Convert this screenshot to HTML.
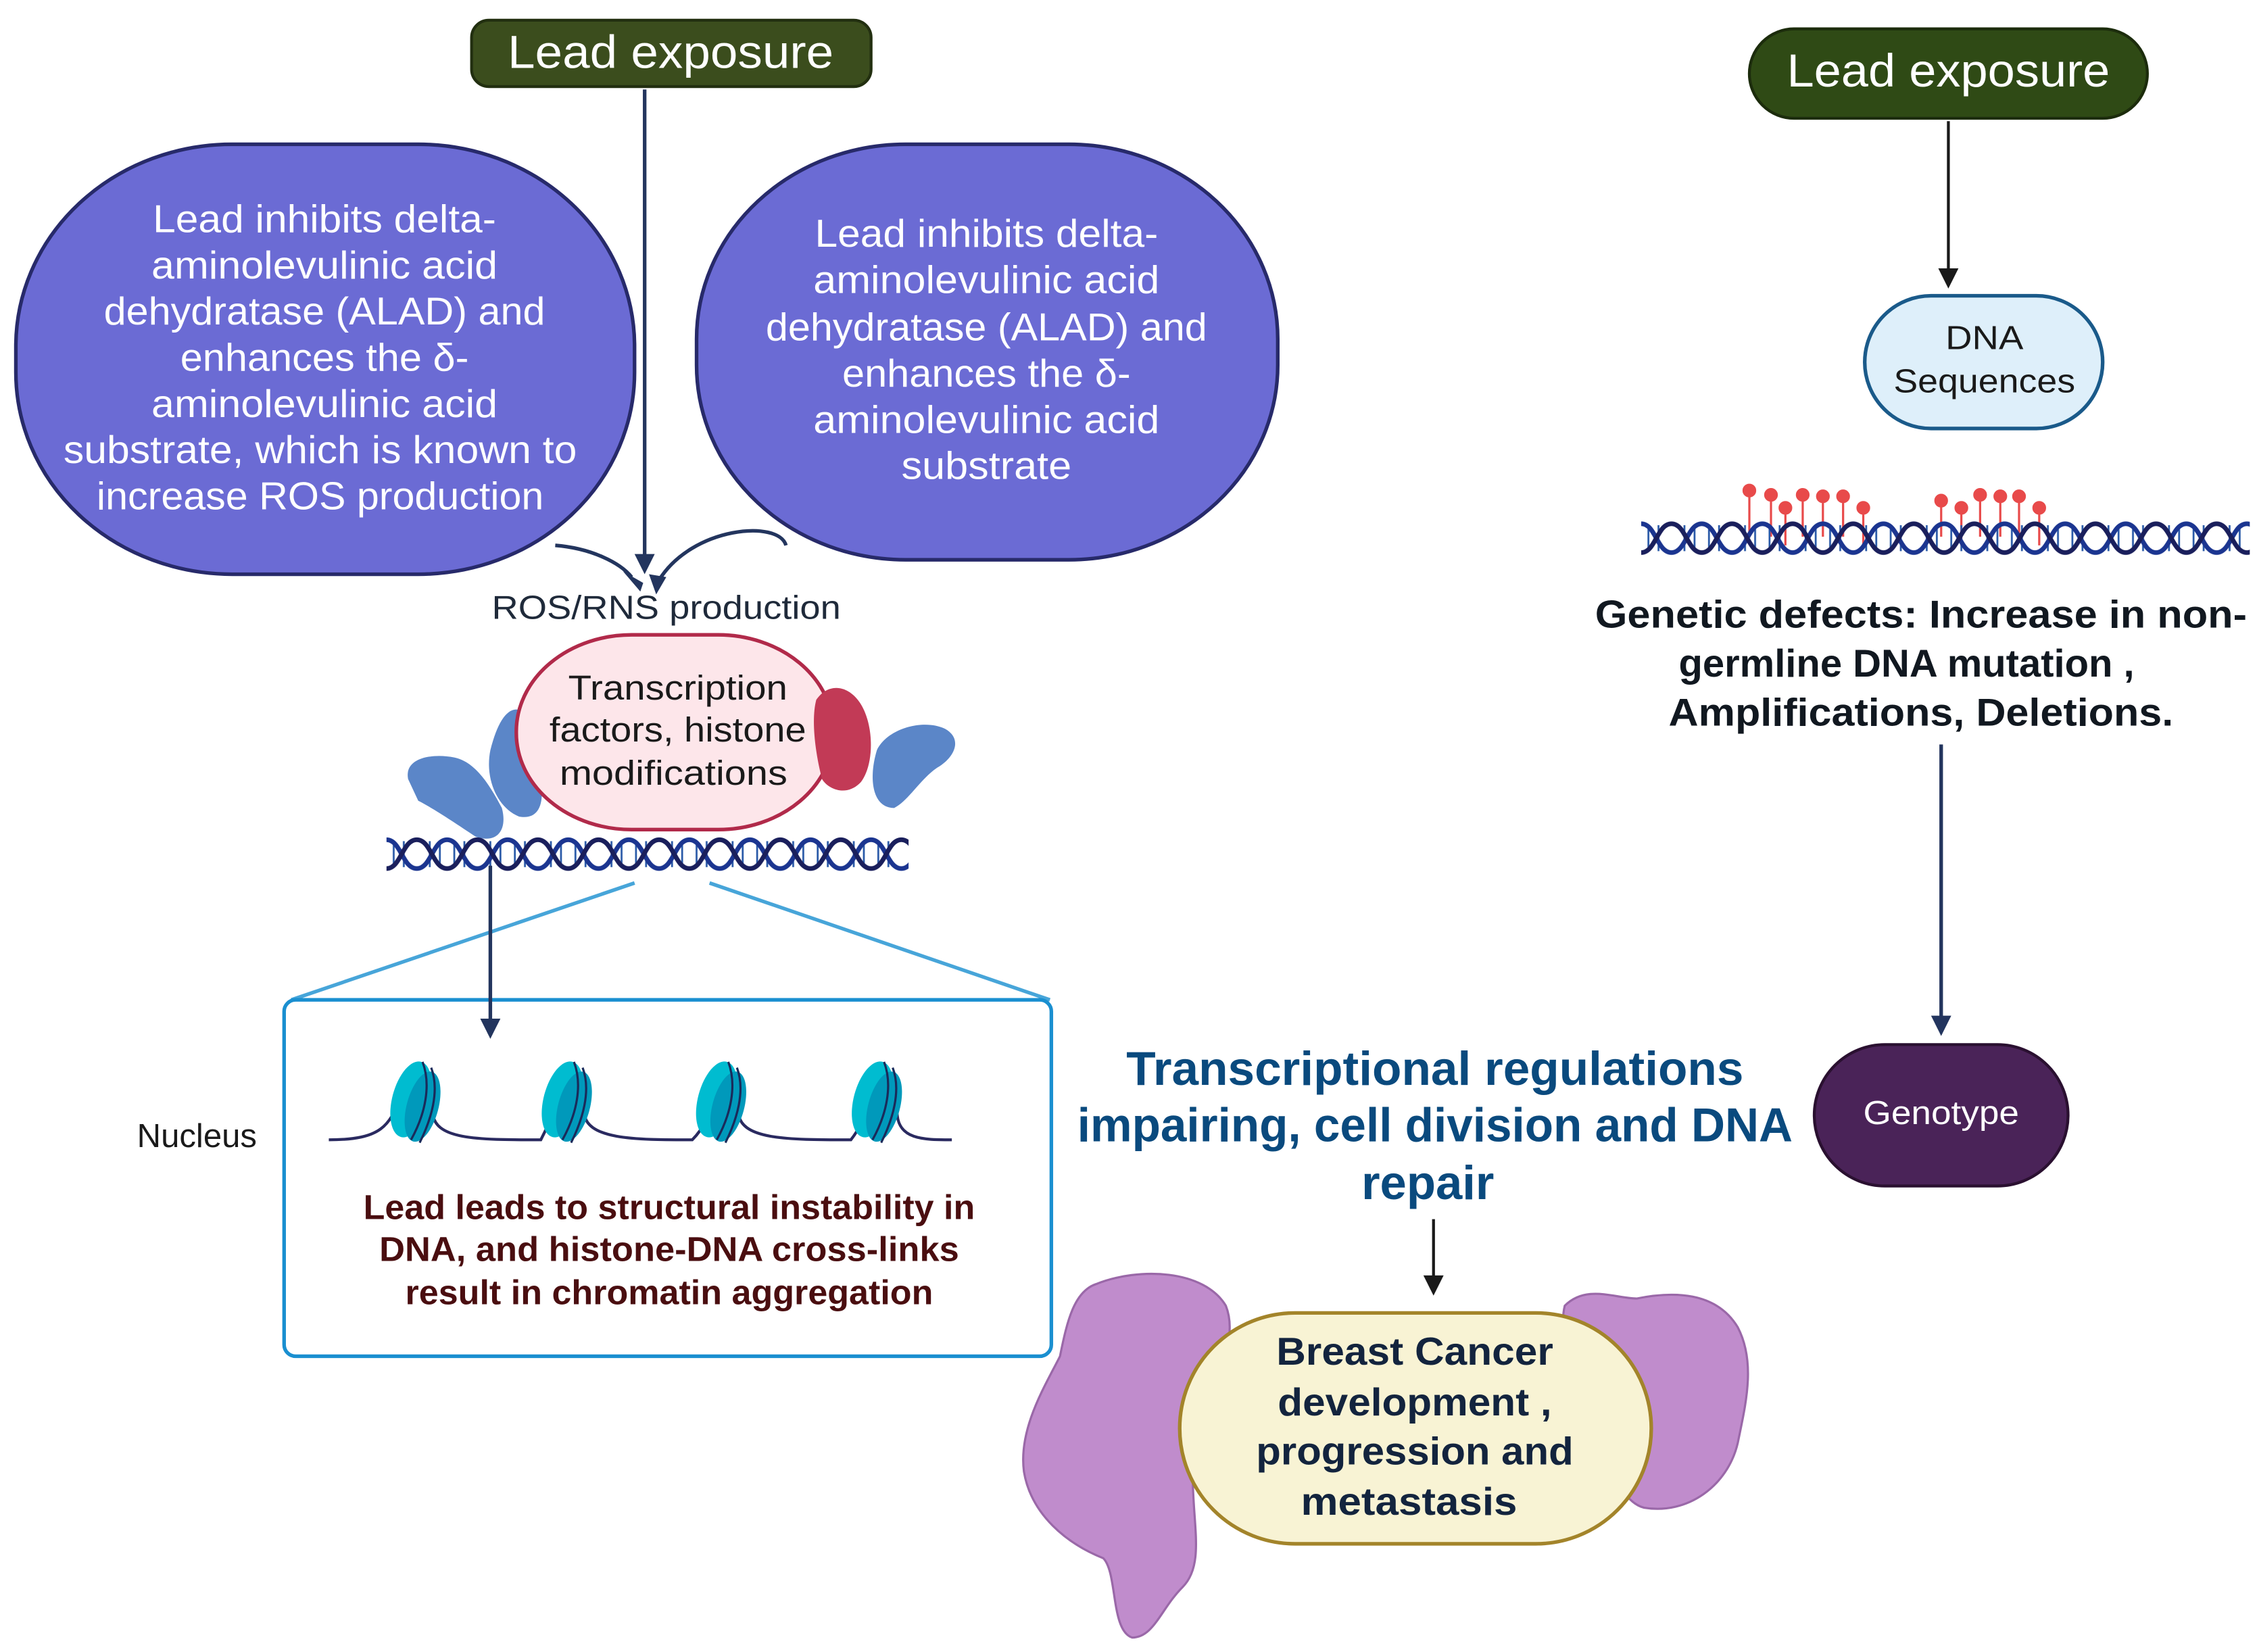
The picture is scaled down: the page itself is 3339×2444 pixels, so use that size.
<!DOCTYPE html>
<html><head><meta charset="utf-8"><style>html,body{margin:0;padding:0;background:#fff}svg{display:block}text{font-family:"Liberation Sans",sans-serif}</style></head>
<body>
<svg width="3339" height="2444" viewBox="0 0 1565 1145" preserveAspectRatio="none" xmlns="http://www.w3.org/2000/svg">
<defs>
<g id="helixTile">
<g stroke="#2a5aa8" stroke-width="1.3"><line x1="5" y1="5" x2="5" y2="19"/><line x1="12" y1="3" x2="12" y2="21"/><line x1="30" y1="3" x2="30" y2="21"/><line x1="37" y1="5" x2="37" y2="19"/></g>
<path d="M0,2 C10,2 11,22 21,22 C31,22 32,2 42,2" fill="none" stroke="#1b3590" stroke-width="3.2"/>
<path d="M0,22 C10,22 11,2 21,2 C31,2 32,22 42,22" fill="none" stroke="#1a1f5c" stroke-width="3.2"/>
</g>
<pattern id="dnaL" x="268" y="580" width="42" height="24" patternUnits="userSpaceOnUse"><use href="#helixTile"/></pattern>
<pattern id="dnaR" x="1138" y="361" width="42" height="24" patternUnits="userSpaceOnUse"><use href="#helixTile"/></pattern>
</defs>

<!-- Left lead exposure -->
<rect x="327" y="14" width="277" height="46" rx="12" fill="#3b4d1d" stroke="#222f10" stroke-width="2"/>
<text x="465" y="47" font-size="32" fill="#fff" text-anchor="middle" textLength="226" lengthAdjust="spacingAndGlyphs">Lead exposure</text>
<line x1="447" y1="62" x2="447" y2="386" stroke="#23355e" stroke-width="2.5"/>
<path d="M440,384 L454,384 L447,398 Z" fill="#23355e"/>

<!-- Left blob -->
<rect x="11" y="100" width="429" height="298" rx="150" ry="140" fill="#6b6bd4" stroke="#272a6a" stroke-width="2.5"/>
<g font-size="27" fill="#fff" text-anchor="middle">
<text x="225" y="161" textLength="238" lengthAdjust="spacingAndGlyphs">Lead inhibits delta-</text>
<text x="225" y="193" textLength="240" lengthAdjust="spacingAndGlyphs">aminolevulinic acid</text>
<text x="225" y="225" textLength="306" lengthAdjust="spacingAndGlyphs">dehydratase (ALAD) and</text>
<text x="225" y="257" textLength="200" lengthAdjust="spacingAndGlyphs">enhances the δ-</text>
<text x="225" y="289" textLength="240" lengthAdjust="spacingAndGlyphs">aminolevulinic acid</text>
<text x="222" y="321" textLength="356" lengthAdjust="spacingAndGlyphs">substrate, which is known to</text>
<text x="222" y="353" textLength="310" lengthAdjust="spacingAndGlyphs">increase ROS production</text>
</g>
<!-- Right blob -->
<rect x="483" y="100" width="403" height="288" rx="145" ry="135" fill="#6b6bd4" stroke="#272a6a" stroke-width="2.5"/>
<g font-size="27" fill="#fff" text-anchor="middle">
<text x="684" y="171" textLength="238" lengthAdjust="spacingAndGlyphs">Lead inhibits delta-</text>
<text x="684" y="203" textLength="240" lengthAdjust="spacingAndGlyphs">aminolevulinic acid</text>
<text x="684" y="236" textLength="306" lengthAdjust="spacingAndGlyphs">dehydratase (ALAD) and</text>
<text x="684" y="268" textLength="200" lengthAdjust="spacingAndGlyphs">enhances the δ-</text>
<text x="684" y="300" textLength="240" lengthAdjust="spacingAndGlyphs">aminolevulinic acid</text>
<text x="684" y="332" textLength="118" lengthAdjust="spacingAndGlyphs">substrate</text>
</g>
<!-- curved arrows -->
<path d="M385,378 C410,380 430,390 438,400" fill="none" stroke="#23355e" stroke-width="2.5"/>
<path d="M432,396 L446,404 L444,410 Z" fill="#23355e"/>
<path d="M545,378 C540,360 480,365 457,402" fill="none" stroke="#23355e" stroke-width="2.5"/>
<path d="M450,398 L462,400 L455,412 Z" fill="#23355e"/>
<text x="462" y="429" font-size="23" fill="#1f2a3a" text-anchor="middle" textLength="242" lengthAdjust="spacingAndGlyphs">ROS/RNS production</text>

<!-- proteins -->
<path d="M283,540 C280,525 300,522 315,525 C330,528 340,545 348,560 C352,575 345,585 330,580 C315,570 300,560 290,555 Z" fill="#5b86c8"/>
<path d="M340,520 C345,500 352,490 360,492 L375,540 C378,560 372,568 360,566 C345,560 336,540 340,520 Z" fill="#5b86c8"/>
<path d="M608,520 C615,505 640,498 655,505 C668,512 662,525 650,532 C638,540 630,555 620,560 C605,560 602,540 608,520 Z" fill="#5b86c8"/>
<rect x="358" y="440" width="220" height="135" rx="80" ry="67" fill="#fde6ea" stroke="#b12a4a" stroke-width="2.5"/>
<path d="M566,485 C575,472 590,475 598,490 C606,505 606,530 597,542 C588,552 575,548 570,540 C566,525 562,500 566,485 Z" fill="#c23a56"/>
<g font-size="24" fill="#1a1a1a" text-anchor="middle">
<text x="470" y="485" textLength="152" lengthAdjust="spacingAndGlyphs">Transcription</text>
<text x="470" y="514" textLength="178" lengthAdjust="spacingAndGlyphs">factors, histone</text>
<text x="467" y="544" textLength="158" lengthAdjust="spacingAndGlyphs">modifications</text>
</g>
<rect x="268" y="580" width="362" height="24" fill="url(#dnaL)"/>

<!-- zoom lines -->
<line x1="440" y1="612" x2="202" y2="693" stroke="#1a8fd0" stroke-width="2.5" opacity="0.8"/>
<line x1="492" y1="612" x2="728" y2="693" stroke="#1a8fd0" stroke-width="2.5" opacity="0.8"/>
<rect x="197" y="693" width="532" height="247" rx="8" fill="none" stroke="#1a8fd0" stroke-width="2.5"/>
<line x1="340" y1="600" x2="340" y2="708" stroke="#23355e" stroke-width="2.5"/>
<path d="M333,706 L347,706 L340,720 Z" fill="#23355e"/>
<text x="95" y="795" font-size="23" fill="#1a1a1a">Nucleus</text>

<!-- nucleosomes -->
<path d="M228,790 C265,790 270,780 278,760 M300,770 C300,790 330,790 375,790 C380,780 385,770 388,760 M405,770 C405,790 440,790 480,790 C490,780 492,770 495,760 M512,770 C512,790 545,790 590,790 C598,780 600,770 605,760 M622,770 C622,790 640,790 660,790" fill="none" stroke="#2a2a60" stroke-width="2"/>
<g>
<g transform="translate(285,762)"><ellipse cx="0" cy="0" rx="13" ry="27" transform="rotate(15)" fill="#00bcd0"/><ellipse cx="8" cy="5" rx="11" ry="25" transform="rotate(15 8 5)" fill="#0099bb"/><path d="M8,-26 C14,-10 10,10 0,28 M14,-22 C20,-6 14,14 6,30" fill="none" stroke="#1a2a5a" stroke-width="1.5"/></g>
<g transform="translate(390,762)"><ellipse cx="0" cy="0" rx="13" ry="27" transform="rotate(15)" fill="#00bcd0"/><ellipse cx="8" cy="5" rx="11" ry="25" transform="rotate(15 8 5)" fill="#0099bb"/><path d="M8,-26 C14,-10 10,10 0,28 M14,-22 C20,-6 14,14 6,30" fill="none" stroke="#1a2a5a" stroke-width="1.5"/></g>
<g transform="translate(497,762)"><ellipse cx="0" cy="0" rx="13" ry="27" transform="rotate(15)" fill="#00bcd0"/><ellipse cx="8" cy="5" rx="11" ry="25" transform="rotate(15 8 5)" fill="#0099bb"/><path d="M8,-26 C14,-10 10,10 0,28 M14,-22 C20,-6 14,14 6,30" fill="none" stroke="#1a2a5a" stroke-width="1.5"/></g>
<g transform="translate(605,762)"><ellipse cx="0" cy="0" rx="13" ry="27" transform="rotate(15)" fill="#00bcd0"/><ellipse cx="8" cy="5" rx="11" ry="25" transform="rotate(15 8 5)" fill="#0099bb"/><path d="M8,-26 C14,-10 10,10 0,28 M14,-22 C20,-6 14,14 6,30" fill="none" stroke="#1a2a5a" stroke-width="1.5"/></g>
</g>
<g font-size="24" font-weight="bold" fill="#4a0e10" text-anchor="middle">
<text x="464" y="845" textLength="424" lengthAdjust="spacingAndGlyphs">Lead leads to structural instability in</text>
<text x="464" y="874" textLength="402" lengthAdjust="spacingAndGlyphs">DNA, and histone-DNA cross-links</text>
<text x="464" y="904" textLength="366" lengthAdjust="spacingAndGlyphs">result in chromatin aggregation</text>
</g>

<!-- center text -->
<g font-size="33" font-weight="bold" fill="#0a4a7e" text-anchor="middle">
<text x="995" y="752" textLength="428" lengthAdjust="spacingAndGlyphs">Transcriptional  regulations</text>
<text x="995" y="791" textLength="496" lengthAdjust="spacingAndGlyphs">impairing, cell division and DNA</text>
<text x="990" y="831" textLength="92" lengthAdjust="spacingAndGlyphs">repair</text>
</g>
<line x1="994" y1="845" x2="994" y2="886" stroke="#1a1a1a" stroke-width="2"/>
<path d="M987,884 L1001,884 L994,898 Z" fill="#1a1a1a"/>

<!-- purple blobs -->
<path d="M760,890 C790,878 835,880 850,905 C860,930 840,960 830,990 C820,1040 840,1080 820,1100 C805,1115 800,1135 785,1135 C770,1130 775,1090 765,1080 C740,1070 715,1050 710,1020 C706,990 725,960 735,940 C740,915 745,895 760,890 Z" fill="#c08ccc" stroke="#9a68a8" stroke-width="1.5"/>
<path d="M1085,905 C1100,890 1120,900 1135,900 C1160,895 1190,895 1205,920 C1218,945 1210,975 1205,1000 C1198,1030 1170,1050 1140,1045 C1120,1040 1110,1000 1100,970 C1092,950 1080,925 1085,905 Z" fill="#c08ccc" stroke="#9a68a8" stroke-width="1.5"/>
<rect x="818" y="910" width="327" height="160" rx="80" fill="#f8f3d4" stroke="#a3842a" stroke-width="2.5"/>
<g font-size="27" font-weight="bold" fill="#13243e" text-anchor="middle">
<text x="981" y="946" textLength="192" lengthAdjust="spacingAndGlyphs">Breast Cancer</text>
<text x="981" y="981" textLength="190" lengthAdjust="spacingAndGlyphs">development ,</text>
<text x="981" y="1015" textLength="220" lengthAdjust="spacingAndGlyphs">progression and</text>
<text x="977" y="1050" textLength="150" lengthAdjust="spacingAndGlyphs">metastasis</text>
</g>

<!-- right column -->
<rect x="1213" y="20" width="276" height="62" rx="31" fill="#2f4a15" stroke="#1c2c0c" stroke-width="2"/>
<text x="1351" y="60" font-size="32" fill="#fff" text-anchor="middle" textLength="224" lengthAdjust="spacingAndGlyphs">Lead exposure</text>
<line x1="1351" y1="84" x2="1351" y2="188" stroke="#1a1a1a" stroke-width="2"/>
<path d="M1344,186 L1358,186 L1351,200 Z" fill="#1a1a1a"/>
<rect x="1293" y="205" width="165" height="92" rx="46" fill="#deeffa" stroke="#1a5a8a" stroke-width="2.5"/>
<text x="1376" y="242" font-size="23" fill="#1a1a1a" text-anchor="middle" textLength="54" lengthAdjust="spacingAndGlyphs">DNA</text>
<text x="1376" y="272" font-size="23" fill="#1a1a1a" text-anchor="middle" textLength="126" lengthAdjust="spacingAndGlyphs">Sequences</text>

<g stroke="#e84a4a" stroke-width="1.5" fill="#e84a4a">
<line x1="1213" y1="340" x2="1213" y2="372"/><circle cx="1213" cy="340" r="4"/>
<line x1="1228" y1="343" x2="1228" y2="372"/><circle cx="1228" cy="343" r="4"/>
<line x1="1238" y1="352" x2="1238" y2="378"/><circle cx="1238" cy="352" r="4"/>
<line x1="1250" y1="343" x2="1250" y2="372"/><circle cx="1250" cy="343" r="4"/>
<line x1="1264" y1="344" x2="1264" y2="372"/><circle cx="1264" cy="344" r="4"/>
<line x1="1278" y1="344" x2="1278" y2="372"/><circle cx="1278" cy="344" r="4"/>
<line x1="1292" y1="352" x2="1292" y2="378"/><circle cx="1292" cy="352" r="4"/>
<line x1="1346" y1="347" x2="1346" y2="372"/><circle cx="1346" cy="347" r="4"/>
<line x1="1360" y1="352" x2="1360" y2="378"/><circle cx="1360" cy="352" r="4"/>
<line x1="1373" y1="343" x2="1373" y2="372"/><circle cx="1373" cy="343" r="4"/>
<line x1="1387" y1="344" x2="1387" y2="372"/><circle cx="1387" cy="344" r="4"/>
<line x1="1400" y1="344" x2="1400" y2="372"/><circle cx="1400" cy="344" r="4"/>
<line x1="1414" y1="352" x2="1414" y2="378"/><circle cx="1414" cy="352" r="4"/>
</g>
<rect x="1138" y="361" width="422" height="24" fill="url(#dnaR)"/>

<g font-size="27" font-weight="bold" fill="#111820" text-anchor="middle">
<text x="1332" y="435" textLength="452" lengthAdjust="spacingAndGlyphs">Genetic defects: Increase in non-</text>
<text x="1322" y="469" textLength="316" lengthAdjust="spacingAndGlyphs">germline DNA mutation ,</text>
<text x="1332" y="503" textLength="350" lengthAdjust="spacingAndGlyphs">Amplifications, Deletions.</text>
</g>
<line x1="1346" y1="516" x2="1346" y2="706" stroke="#23355e" stroke-width="2.5"/>
<path d="M1339,704 L1353,704 L1346,718 Z" fill="#23355e"/>
<rect x="1258" y="724" width="176" height="98" rx="49" fill="#4a2358" stroke="#2a1030" stroke-width="2"/>
<text x="1346" y="779" font-size="23" fill="#fff" text-anchor="middle" textLength="108" lengthAdjust="spacingAndGlyphs">Genotype</text>
</svg>
</body></html>
